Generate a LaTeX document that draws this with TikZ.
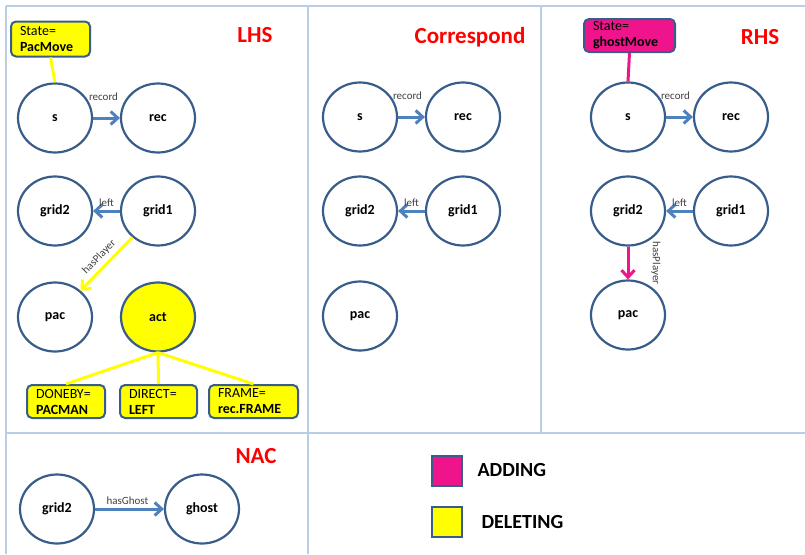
\documentclass[tikz,border=0pt]{standalone}
\usepackage{fontspec}
\setmainfont{Carlito}
\usetikzlibrary{shapes.geometric,arrows.meta,positioning}
\definecolor{panelline}{HTML}{B9CDE5}
\definecolor{nodeline}{HTML}{385D8A}
\definecolor{edgeblue}{HTML}{4F81BD}
\definecolor{addpink}{HTML}{F0148C}
\definecolor{delyellow}{HTML}{FFFF00}
\definecolor{lblgray}{HTML}{404040}

\begin{document}
\begin{tikzpicture}[x=1pt, y=-1pt,
    panel/.style={panelline, line width=2pt},
    obj/.style={ellipse, draw=nodeline, line width=2.2pt, minimum width=74pt, minimum height=69pt,
        inner sep=0pt, font=\fontsize{14}{16}\selectfont\bfseries},
    attr/.style={draw=nodeline, line width=2pt, rounded corners=5pt, align=left, inner xsep=9pt,
        inner ysep=2pt, minimum height=33pt, font=\fontsize{14}{16}\selectfont},
    title/.style={text=red, font=\fontsize{23}{26}\selectfont\bfseries},
    edgelbl/.style={text=lblgray, font=\fontsize{11}{12}\selectfont, inner sep=2pt},
    rel/.style={edgeblue, line width=3pt, -{Straight Barb[length=7pt, width=13pt]}},
    delline/.style={delyellow, line width=3pt},
    addline/.style={addpink, line width=3pt},
    key/.style={draw=nodeline, line width=2pt, minimum size=30pt, inner sep=0pt},
    keytxt/.style={font=\fontsize{20}{22}\selectfont\bfseries}
]
    \useasboundingbox (0,0) rectangle (805,554);

    % panel grid
    \draw[panel] (6,6) -- (805,6);
    \draw[panel] (6,433) -- (805,433);
    \foreach \x in {6, 308} {
        \draw[panel] (\x,6) -- (\x,554);
    }
    \draw[panel] (541,6) -- (541,433);

    % LHS
    \node[title] (lhs) at (255,35) {LHS};
    \node[obj] (ls) at (55,118) {s};
    \node[obj] (lrec) at (158,118) {rec};
    \node[obj] (lg2) at (55,211) {grid2};
    \node[obj] (lg1) at (158,211) {grid1};
    \node[obj] (lpac) at (55,317) {pac};
    \node[obj, fill=delyellow] (lact) at (158,317) {act};
    \node[attr, fill=delyellow, text width=61pt, minimum height=35pt] (lstate) at (50.5,39) {State=\\\textbf{PacMove}};
    \node[attr, fill=delyellow, text width=60pt] (doneby) at (66,401.5) {DONEBY=\\\textbf{PACMAN}};
    \node[attr, fill=delyellow, text width=59pt] (direct) at (158.5,401.5) {DIRECT=\\\textbf{LEFT}};
    \node[attr, fill=delyellow, text width=71pt] (frame) at (253.5,401.5) {FRAME=\\\textbf{rec.FRAME}};
    \draw[delline] (lstate.south) -- (ls.north);
    \foreach \b in {doneby, direct, frame} {
        \draw[delline] (lact.south) -- (\b.north);
    }
    \draw[rel] (ls) -- node[edgelbl, above=14pt, xshift=-3pt] {record} (lrec);
    \draw[rel] (lg1) -- node[edgelbl, above=1pt] {left} (lg2);
    \draw[delline, -{Straight Barb[length=7pt, width=13pt]}] (lg1) -- node[edgelbl, sloped, above=2pt] {hasPlayer} (lpac);

    % Correspond
    \node[title] (corr) at (470,37) {Correspond};
    \node[obj] (cs) at (360,117) {s};
    \node[obj] (crec) at (463,117) {rec};
    \node[obj] (cg2) at (360,211) {grid2};
    \node[obj] (cg1) at (463,211) {grid1};
    \node[obj] (cpac) at (360,316) {pac};
    \draw[rel] (cs) -- node[edgelbl, above=14pt, xshift=-4pt] {record} (crec);
    \draw[rel] (cg1) -- node[edgelbl, above=1pt] {left} (cg2);

    % RHS
    \node[title] (rhs) at (760,37) {RHS};
    \node[obj] (rs) at (628,117) {s};
    \node[obj] (rrec) at (731,117) {rec};
    \node[obj] (rg2) at (628,211) {grid2};
    \node[obj] (rg1) at (731,211) {grid1};
    \node[obj] (rpac) at (628,315) {pac};
    \node[attr, fill=addpink, text width=73pt] (rstate) at (629.5,35.5) {State=\\\textbf{ghostMove}};
    \draw[addline] (rstate.south) -- (rs.north);
    \draw[rel] (rs) -- node[edgelbl, above=14pt, xshift=-4pt] {record} (rrec);
    \draw[rel] (rg1) -- node[edgelbl, above=1pt] {left} (rg2);
    \draw[addline, -{Straight Barb[length=7pt, width=13pt]}] (rg2) -- (rpac);
    \node[edgelbl, rotate=-90, anchor=south] (hp) at (649,263) {hasPlayer};

    % NAC
    \node[title] (nac) at (256,456) {NAC};
    \node[obj] (ng2) at (57,509) {grid2};
    \node[obj] (nghost) at (202,509) {ghost};
    \draw[rel] (ng2) -- node[edgelbl, above=1pt, xshift=-2pt] {hasGhost} (nghost);

    % legend
    \node[key, fill=addpink] (addkey) at (447,470.5) {};
    \node[keytxt, right=11pt of addkey] (addtxt) {ADDING};
    \node[key, fill=delyellow] (delkey) at (447,522) {};
    \node[keytxt, right=15pt of delkey] (deltxt) {DELETING};
\end{tikzpicture}
\end{document}
